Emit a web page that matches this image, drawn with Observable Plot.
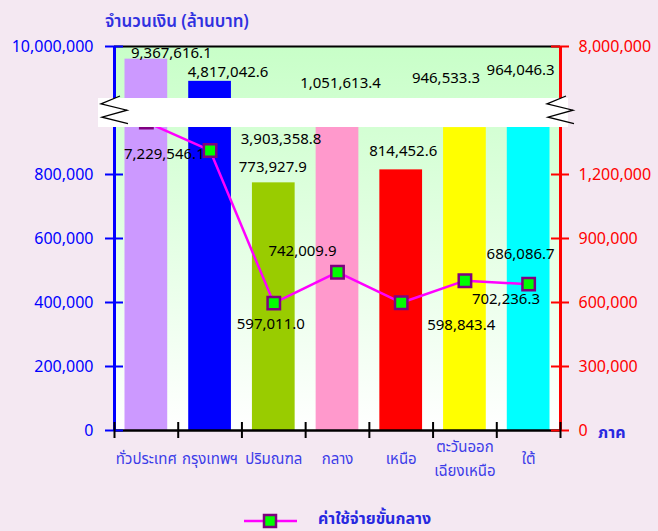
<!DOCTYPE html>
<html><head><meta charset="utf-8">
<script src="https://cdn.jsdelivr.net/npm/d3@7"></script>
<script src="https://cdn.jsdelivr.net/npm/@observablehq/plot@0.6"></script>
<style>
html,body{margin:0;padding:0;background:#F4E8F2;}
#chart{width:658px;height:531px;position:relative;}
svg{overflow:visible;}
</style></head><body><div id="chart"></div>
<script>
// ---- data ----
const categories = ["ทั่วประเทศ", "กรุงเทพฯ", "ปริมณฑล", "กลาง", "เหนือ", "ตะวันออก\nเฉียงเหนือ", "ใต้"];
const amounts = [9367616.1, 4817042.6, 773927.9, 1051613.4, 814452.6, 946533.3, 964046.3];
const intermediate = [7229546.1, 3903358.8, 597011.0, 742009.9, 598843.4, 702236.3, 686086.7];
const leftTicks = [0, 200000, 400000, 600000, 800000, 10000000];
const rightTicks = [0, 300000, 600000, 900000, 1200000, 8000000];
const seriesName = "ค่าใช้จ่ายขั้นกลาง";
const yTitle = "จำนวนเงิน (ล้านบาท)";
const xTitle = "ภาค";

// ---- styles / layout ----
const barColors = ["#CC99FF", "#0000FF", "#99CC00", "#FF99CC", "#FF0000", "#FFFF00", "#00FFFF"];
const barLabelOffsets = [[25, -6], [18, -9], [-1, -16], [3, -36], [2, -19], [-19, -49], [-8, -56]];
const lineLabelOffsets = [[18, 32], [71, -11], [-3, 21], [-35, -21], [60, 22], [41, 18], [-8, -30]];
const FONT = "Tahoma, 'Noto Sans Thai', 'Liberation Sans', 'DejaVu Sans', sans-serif";
const W = 658, H = 531, mL = 114, mR = 98, mT = 46, mB = 101;
// broken axes (piecewise linear scales)
const breakLow = 946875, breakHigh = 1300000;
const leftDomain = [0, breakLow, breakHigh, 9400000, 10000000];
const leftRange = [430, 127, 98, 58.5, 46];
const rightDomain = [0, 1200000, 3900000, 7300000, 8000000];
const rightRange = [430, 174, 150, 121, 46];
const yL = d3.scaleLinear(leftDomain, leftRange);
const yR = d3.scaleLinear(rightDomain, rightRange);
const toLeft = v => yL.invert(yR(v));

const fmt = d3.format(",");
const fmt1 = d3.format(",.1f");
const BLUE = "#0000FF", RED = "#FF0000";

const bars = categories.map((c, i) => ({i, c, v: amounts[i], color: barColors[i]}));
const pts = categories.map((c, i) => ({i, v: intermediate[i], y: toLeft(intermediate[i])}));
const rightPos = rightTicks.map(toLeft);

const textStyle = {fill: "#000", fontSize: 15, fontFamily: FONT};

const plot = Plot.plot({
  width: W, height: H, marginTop: mT, marginBottom: mB, marginLeft: mL, marginRight: mR,
  style: {background: "transparent", fontFamily: FONT, overflow: "visible"},
  x: {type: "linear", domain: [0, 7], axis: null},
  y: {type: "linear", domain: leftDomain, range: leftRange, axis: null},
  color: {type: "identity"},
  marks: [
    Plot.frame({fill: "url(#plotbg)", stroke: null}),
    Plot.rect(bars, {x1: "i", x2: d => d.i + 1, y1: 0, y2: "v", fill: "color", insetLeft: 10.5, insetRight: 10.5}),
    Plot.line(pts, {x: d => d.i + 0.5, y: "y", stroke: "#FF00FF", strokeWidth: 2.5}),
    Plot.dot(pts, {x: d => d.i + 0.5, y: "y", symbol: "square", r: 7, fill: "#00FF00", stroke: "#800080", strokeWidth: 2.5}),
    // axis lines
    Plot.ruleY([10000000], {x1: 0, x2: 7, stroke: "#000", strokeWidth: 2}),
    Plot.ruleX([0], {stroke: BLUE, strokeWidth: 3}),
    Plot.ruleX([7], {stroke: RED, strokeWidth: 3}),
    Plot.ruleY([0], {x1: 0, x2: 7, stroke: "#000", strokeWidth: 2.5}),
    // ticks
    Plot.ruleY(leftTicks, {y: d => d, x1: 0, x2: 0, insetLeft: -9, insetRight: -9, stroke: BLUE, strokeWidth: 2}),
    Plot.ruleY(rightPos, {y: d => d, x1: 7, x2: 7, insetLeft: -9, insetRight: -9, stroke: RED, strokeWidth: 2}),
    Plot.ruleX(d3.range(8), {x: d => d, y1: 0, y2: 0, insetTop: -8, insetBottom: -8, stroke: "#000", strokeWidth: 2}),
    // break band
    Plot.rect([0], {x1: 0, x2: 7, y1: breakLow, y2: breakHigh, insetLeft: -16, insetRight: -8, fill: "#FFFFFF"}),
    // tick labels
    Plot.text(leftTicks, {y: d => d, x: 0, text: fmt, textAnchor: "end", dx: -21, fill: BLUE, fontSize: 16}),
    Plot.text(rightPos, {y: d => d, x: 7, text: (d, i) => fmt(rightTicks[i]), textAnchor: "start", dx: 18, fill: RED, fontSize: 16}),
    Plot.text(categories, {x: (d, i) => i + 0.5, y: 0, text: d => d, dy: 26, lineAnchor: "middle", lineHeight: 1.55, fill: "#3C3CE8", fontSize: 15}),
    // bar value labels
    ...bars.map((d, k) => Plot.text([d], {x: () => d.i + 0.5, y: () => d.v, text: () => fmt1(d.v), dx: barLabelOffsets[k][0], dy: barLabelOffsets[k][1], ...textStyle, letterSpacing: 1})),
    ...pts.map((d, k) => Plot.text([d], {x: () => d.i + 0.5, y: () => d.y, text: () => fmt1(d.v), dx: lineLabelOffsets[k][0], dy: lineLabelOffsets[k][1], ...textStyle, letterSpacing: 1}))
  ]
});

document.getElementById("chart").appendChild(plot);

// post: gradient, zigzags, titles, legend
const svg = d3.select(plot);
const defs = svg.insert("defs", ":first-child");
const g = defs.append("linearGradient").attr("id", "plotbg").attr("x1", 0).attr("x2", 0).attr("y1", 0).attr("y2", 1);
g.append("stop").attr("offset", "0%").attr("stop-color", "#C8FFC8");
g.append("stop").attr("offset", "100%").attr("stop-color", "#FFFFFF");

const xs = plot.scale("x"), ys = plot.scale("y");
const yTop = ys.apply(breakHigh), yBot = ys.apply(breakLow);
function zig(ax) {
  const h = yBot - yTop;
  const p = [[ax + 6, yTop - 2], [ax - 13, yTop + h * 0.2], [ax + 13, yTop + h * 0.42], [ax - 12, yTop + h * 0.66], [ax + 14, yTop + h * 0.88]];
  svg.append("path").attr("d", d3.line()(p)).attr("fill", "none").attr("stroke", "#000").attr("stroke-width", 1.3);
}
zig(xs.apply(0));
zig(xs.apply(7));

function label(x, y, txt, size, color, weight) {
  svg.append("text").attr("x", x).attr("y", y).attr("dy", "0.35em").attr("text-anchor", "start")
    .attr("fill", color).attr("font-size", size).attr("font-weight", weight).attr("font-family", FONT).text(txt);
}
label(105, 21, yTitle, 17, "#3030E0", "600");
label(598, 432, xTitle, 16, "#2828E0", "bold");

// legend
const lg = svg.append("g");
lg.append("line").attr("x1", 244).attr("x2", 297).attr("y1", 521).attr("y2", 521).attr("stroke", "#FF00FF").attr("stroke-width", 2.5);
lg.append("rect").attr("x", 264).attr("y", 515).attr("width", 12).attr("height", 12).attr("fill", "#00FF00").attr("stroke", "#800080").attr("stroke-width", 2.5);
label(318, 518, seriesName, 16, "#2828E0", "bold");
</script>
</body></html>
